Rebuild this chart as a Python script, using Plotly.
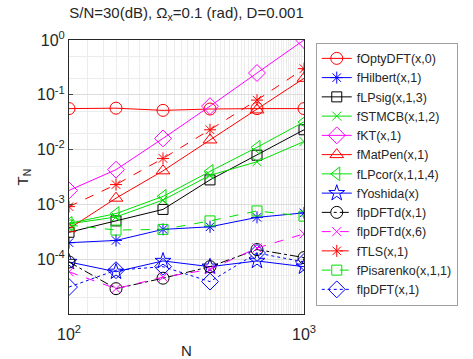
import plotly.graph_objects as go

N = [100, 158.5, 251.2, 398.1, 631.0, 1000]

names = ["fOptyDFT(x,0)", "fHilbert(x,1)", "fLPsig(x,1,3)", "fSTMCB(x,1,2)", "fKT(x,1)",
         "fMatPen(x,1)", "fLPcor(x,1,1,4)", "fYoshida(x)", "flpDFTd(x,1)", "flpDFTd(x,6)",
         "fTLS(x,1)", "fPisarenko(x,1,1)", "flpDFT(x,1)"]

fOptyDFT   = [0.056, 0.057, 0.052, 0.055, 0.056, 0.056]
fHilbert   = [0.00020, 0.00022, 0.00035, 0.00039, 0.00058, 0.00070]
fLPsig     = [0.00031, 0.00050, 0.00081, 0.0028, 0.0079, 0.023]
fSTMCB     = [0.00044, 0.00059, 0.0012, 0.0034, 0.0060, 0.014]
fKT        = [0.0018, 0.0043, 0.016, 0.062, 0.25, 1.0]
fMatPen    = [0.00036, 0.0013, 0.0041, 0.015, 0.053, 0.20]
fLPcor     = [0.00045, 0.00068, 0.0014, 0.0040, 0.011, 0.032]
fYoshida   = [0.000089, 0.000059, 0.000093, 0.000073, 0.000093, 0.000073]
flpDFTd1   = [0.000089, 0.000029, 0.000045, 0.000073, 0.00015, 0.000107]
flpDFTd6   = [0.000059, 0.000029, 0.000047, 0.000065, 0.00016, 0.00029]
fTLS       = [0.00091, 0.0023, 0.0069, 0.023, 0.080, 0.30]
fPisarenko = [0.00042, 0.00034, 0.00035, 0.00050, 0.00076, 0.00061]
flpDFT     = [0.000031, 0.000063, 0.000073, 0.000039, 0.00013, 0.000089]

series = [fOptyDFT, fHilbert, fLPsig, fSTMCB, fKT, fMatPen, fLPcor, fYoshida,
          flpDFTd1, flpDFTd6, fTLS, fPisarenko, flpDFT]

x_tickvals = [100, 1000]
x_ticktext = ["10<sup>2</sup>", "10<sup>3</sup>"]
y_tickvals = [1e-4, 1e-3, 1e-2, 1e-1, 1]
y_ticktext = ["10<sup>-4</sup>", "10<sup>-3</sup>", "10<sup>-2</sup>", "10<sup>-1</sup>", "10<sup>0</sup>"]

R, B, K, G, M = "#ff0000", "#0000ff", "#000000", "#00e000", "#ff00ff"
styles = [
    (R, "circle-open", "solid", 12),
    (B, "asterisk-open", "solid", 10),
    (K, "square-open", "solid", 10),
    (G, "x-thin-open", "solid", 9),
    (M, "diamond-open", "solid", 13),
    (R, "triangle-up-open", "solid", 12),
    (G, "triangle-left-open", "solid", 12),
    (B, "star-open", "solid", 12),
    (K, "circle-open", "dashdot", 12),
    (M, "x-thin-open", "dash", 9),
    (R, "asterisk-open", "dash", 10),
    (G, "square-open", "dash", 10),
    (B, "diamond-open", "dot", 13),
]

fig = go.Figure()
for nm, ys, (c, sym, dash, sz) in zip(names, series, styles):
    fig.add_trace(go.Scatter(
        x=N, y=ys, name=nm, mode="lines+markers",
        line=dict(color=c, width=1, dash=dash),
        marker=dict(symbol=sym, size=sz, color=c, line=dict(color=c, width=1)),
    ))

font = "Liberation Sans, Arial, sans-serif"
fig.update_layout(
    width=473, height=359,
    margin=dict(l=69, r=169, t=40, b=45),
    paper_bgcolor="white", plot_bgcolor="white",
    font=dict(family=font, size=14, color="#262626"),
    title=dict(text="S/N=30(dB), Ω<sub>x</sub>=0.1 (rad), D=0.001",
               x=(69 + 304) / 2 / 473, xanchor="center", y=1 - 13 / 359, yanchor="middle",
               font=dict(size=15, color="#262626")),
    showlegend=True,
    legend=dict(x=1.05, xanchor="left", y=0.99, yanchor="top",
                bgcolor="white", bordercolor="#a0a0a0", borderwidth=1,
                font=dict(size=12.5, color="#262626"), tracegroupgap=0,
                itemwidth=30),
)
fig.update_xaxes(
    type="log", range=[2, 3], tickvals=x_tickvals, ticktext=x_ticktext,
    showgrid=True, gridcolor="#dcdcdc", gridwidth=1,
    minor=dict(showgrid=True, gridcolor="#ececec", ticks=""),
    showline=True, linecolor="#262626", mirror=True, ticks="inside", ticklen=4,
    zeroline=False, ticklabelstandoff=6, automargin=False,
    title=dict(text="N", font=dict(size=15), standoff=4),
    tickfont=dict(size=16),
)
fig.update_yaxes(
    type="log", range=[-5, 0], tickvals=y_tickvals, ticktext=y_ticktext,
    showgrid=True, gridcolor="#dcdcdc", gridwidth=1,
    minor=dict(showgrid=True, gridcolor="#ececec", ticks=""),
    showline=True, linecolor="#262626", mirror=True, ticks="inside", ticklen=4,
    zeroline=False,
    title=dict(text="T<sub>N</sub>", font=dict(size=15), standoff=4),
    tickfont=dict(size=16),
)

fig.write_html("out.html")
